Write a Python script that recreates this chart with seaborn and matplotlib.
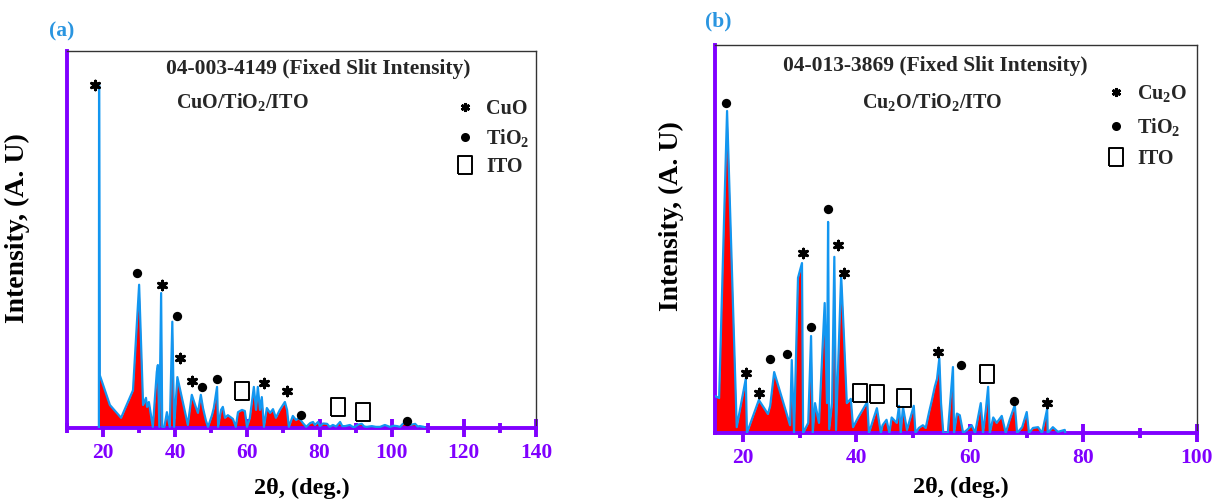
import numpy as np
import pandas as pd
import matplotlib
matplotlib.use("Agg")
import matplotlib.pyplot as plt
from matplotlib.lines import Line2D
import seaborn as sns

# ---------------- data ----------------
a_two_theta = [18.85, 18.9, 19.1, 21.9, 25.0, 28.3, 30.0, 31.1, 31.9, 32.2, 32.7, 33.8,
               34.9, 35.2, 35.6, 36.1, 36.4, 37.0, 37.7, 38.5, 39.2, 39.7, 40.6, 43.5,
               44.6, 45.7, 46.3, 47.1, 47.7, 48.5, 49.1, 50.2, 50.7, 51.6, 51.9, 52.7,
               53.2, 53.8, 54.6, 56.0, 56.8, 57.4, 58.5, 59.3, 59.9, 60.7, 61.8, 62.4,
               62.9, 63.5, 64.0, 64.6, 65.4, 66.3, 67.1, 67.9, 69.0, 70.4, 71.0, 71.5,
               72.6, 73.5, 74.3, 75.4, 76.3, 77.4, 78.2, 78.7, 79.6, 80.1, 81.0, 82.1,
               82.8, 83.7, 84.6, 85.7, 86.3, 87.1, 88.4, 89.2, 89.8, 90.7, 91.7, 92.4,
               93.1, 94.5, 95.6, 96.8, 98.1, 99.5, 100.6, 101.5, 102.3, 103.1, 104.0,
               105.1, 106.5, 107.2, 107.8, 108.9, 109.2]
a_intensity = [0.0, 91.0, 14.0, 6.1, 2.7, 10.0, 38.0, 6.1, 8.0, 5.6, 6.9, 0.3,
               14.9, 16.7, 0.3, 35.8, 0.3, 0.3, 4.2, 0.3, 28.2, 0.3, 13.5, 0.8,
               8.8, 5.6, 4.0, 8.8, 5.3, 2.0, 0.3, 3.4, 5.3, 10.9, 0.3, 4.8,
               5.6, 2.7, 3.4, 2.4, 0.3, 4.2, 4.8, 4.5, 0.3, 2.7, 10.9, 4.8,
               10.9, 4.8, 8.2, 0.3, 5.3, 4.0, 5.0, 2.7, 4.8, 6.9, 4.8, 0.3,
               3.2, 2.1, 2.7, 1.3, 0.3, 1.3, 1.6, 0.8, 1.6, 0.5, 1.2, 1.1,
               0.3, 0.8, 0.4, 1.6, 0.5, 0.5, 0.8, 0.3, 0.3, 0.9, 1.1, 0.4,
               0.3, 0.5, 0.3, 0.3, 0.8, 0.3, 0.6, 0.5, 0.3, 1.1, 1.6,
               0.8, 1.1, 0.4, 0.5, 0.3, 0.0]

b_two_theta = [15.1, 15.8, 17.2, 18.9, 20.5, 20.7, 22.8, 24.4, 24.8, 25.5, 28.3, 28.6,
               29.0, 29.7, 30.4, 30.6, 31.5, 32.0, 32.3, 32.7, 33.4, 34.4, 34.8, 35.0,
               35.2, 35.7, 36.1, 36.4, 37.3, 37.7, 38.3, 39.0, 39.4, 40.3, 41.9, 42.2,
               43.6, 44.3, 44.6, 45.3, 45.8, 46.2, 47.1, 47.5, 47.8, 48.2, 48.9, 50.1,
               50.4, 51.0, 51.7, 52.2, 52.8, 53.3, 53.8, 54.2, 54.6, 54.9, 55.3, 56.1,
               57.0, 57.2, 57.7, 58.2, 58.8, 59.5, 60.3, 60.9, 61.9, 62.3, 62.8, 63.2,
               63.5, 64.1, 64.7, 65.6, 66.3, 67.0, 67.9, 68.3, 69.2, 70.0, 70.4, 71.1,
               72.0, 72.7, 73.6, 73.7, 74.6, 75.5, 76.7, 76.8]
b_intensity = [9.5, 9.0, 83.0, 1.5, 14.0, 0.0, 8.5, 4.9, 7.0, 15.7, 2.0, 18.8,
               0.0, 40.0, 43.8, 0.0, 2.6, 25.0, 0.0, 7.7, 2.6, 33.5, 7.7, 54.4,
               1.0, 7.7, 45.4, 0.8, 40.7, 28.0, 7.7, 8.8, 1.5, 4.0, 8.0, 0.0,
               6.4, 0.0, 2.0, 3.4, 0.0, 4.0, 2.6, 7.0, 0.0, 6.7, 0.8, 7.0,
               0.0, 1.3, 2.0, 1.3, 5.4, 8.5, 11.9, 14.0, 19.3, 7.7, 0.0, 0.0,
               17.0, 0.0, 5.0, 4.6, 0.0, 0.8, 2.0, 0.0, 7.7, 0.0, 6.0, 11.9,
               0.0, 4.0, 2.6, 4.4, 0.0, 3.4, 7.2, 0.0, 1.5, 5.4, 0.0, 1.3,
               1.5, 0.0, 6.2, 0.0, 1.5, 0.3, 0.8, 0.0]

# phase markers (2theta, height)
a_cuo_x = [17.8, 36.3, 41.3, 44.6, 64.6, 71.0]
a_cuo_y = [91.0, 38.0, 18.6, 12.5, 12.0, 9.8]
a_tio2_x = [29.4, 40.5, 47.4, 51.6, 74.9, 104.2]
a_tio2_y = [41.0, 29.7, 10.9, 13.0, 3.4, 1.9]
a_ito_x = [58.5, 85.1, 92.0]
a_ito_y = [9.8, 5.6, 4.2]

b_cu2o_x = [20.5, 22.8, 30.6, 36.7, 37.8, 54.4, 73.6]
b_cu2o_y = [15.5, 10.3, 46.4, 48.5, 41.2, 21.0, 7.7]
b_tio2_x = [17.0, 24.8, 27.8, 32.0, 35.0, 58.4, 67.8]
b_tio2_y = [85.0, 19.0, 20.4, 27.3, 57.7, 17.5, 8.2]
b_ito_x = [40.6, 43.6, 48.4, 63.0]
b_ito_y = [10.3, 10.0, 9.0, 15.2]

a_ticks = [20, 40, 60, 80, 100, 120, 140]
b_ticks = [20, 40, 60, 80, 100]

# ---------------- style ----------------
sns.set_theme(style="white")
plt.rcParams["font.family"] = ["Liberation Serif", "DejaVu Serif"]
plt.rcParams["font.weight"] = "bold"
plt.rcParams["mathtext.fontset"] = "custom"
plt.rcParams["mathtext.rm"] = "Liberation Serif:bold"
plt.rcParams["mathtext.bf"] = "Liberation Serif:bold"
plt.rcParams["mathtext.it"] = "Liberation Serif:bold"

PURPLE = "#8000ff"
BLUE = "#1296f0"
RED = "#ff0000"
LABELBLUE = "#2a95e0"

fig = plt.figure(figsize=(12.13, 5.04), dpi=100)
ax_a = fig.add_axes([0.0552, 0.1508, 0.3867, 0.7480])
ax_b = fig.add_axes([0.5891, 0.1409, 0.3977, 0.7698])

rect = [(-0.4, -0.5), (0.4, -0.5), (0.4, 0.5), (-0.4, 0.5), (-0.4, -0.5)]
STAR = (6, 2, 0)


def draw_panel(ax, tt, inten, xlim, ticks, phases, title, title_xy, comp, comp_xy,
               leg_labels, leg_anchor, leg_spacing, xlabel_xy, ylabel_xy):
    df = pd.DataFrame({"two_theta": tt, "intensity": inten})
    ax.fill_between(df["two_theta"], 0, df["intensity"], color=RED, lw=0, zorder=2)
    sns.lineplot(data=df, x="two_theta", y="intensity", ax=ax, color=BLUE, lw=1.6,
                 sort=False, estimator=None, zorder=3)
    (sx, sy), (cx, cy), (ix, iy) = phases
    ax.scatter(sx, sy, marker=STAR, s=38, lw=2.2, color="black", zorder=4)
    ax.scatter(cx, cy, marker="o", s=45, color="black", lw=0, zorder=4)
    ax.scatter(ix, iy, marker=rect, s=170, facecolor="none", edgecolor="black", lw=1.4, zorder=4)

    ax.set_xlim(*xlim)
    ax.set_ylim(0, 100)
    ax.set_xticks(ticks)
    ax.set_xticklabels([str(t) for t in ticks])
    ax.set_xticks(np.arange(xlim[0] + (10 - xlim[0] % 10) % 10, xlim[1] + 1, 10), minor=True)
    ax.set_yticks([])
    ax.tick_params(axis="x", which="major", direction="inout", length=13, width=2.8,
                   color=PURPLE, labelcolor=PURPLE, labelsize=15.5, pad=4, bottom=True)
    ax.tick_params(axis="x", which="minor", direction="inout", length=7, width=2.8,
                   color=PURPLE, bottom=True)
    for lab in ax.get_xticklabels():
        lab.set_fontweight("bold")
    for side in ["left", "bottom"]:
        ax.spines[side].set_color(PURPLE)
        ax.spines[side].set_linewidth(2.8)
    for side in ["top", "right"]:
        ax.spines[side].set_color("#333333")
        ax.spines[side].set_linewidth(1.0)

    ax.set_xlabel("2\u03b8, (deg.)", fontsize=17.5, fontweight="bold", color="black")
    ax.xaxis.set_label_coords(*xlabel_xy)
    ax.set_ylabel("Intensity, (A. U)", fontsize=20, fontweight="bold", color="black")
    ax.yaxis.set_label_coords(*ylabel_xy)

    ax.text(title_xy[0], title_xy[1], title, transform=ax.transAxes, ha="center",
            va="center", fontsize=15.5, fontweight="bold")
    ax.text(comp_xy[0], comp_xy[1], comp, transform=ax.transAxes, ha="left",
            va="center", fontsize=14.5, fontweight="bold")

    handles = [
        Line2D([], [], ls="none", marker=STAR, ms=6.5, mew=2.0, color="black"),
        Line2D([], [], ls="none", marker="o", ms=6.5, color="black", mew=0),
        Line2D([], [], ls="none", marker=rect, ms=13, mfc="none", mec="black", mew=1.4),
    ]
    leg = ax.legend(handles, leg_labels, loc="upper right", bbox_to_anchor=leg_anchor,
                    frameon=False, fontsize=14.5, handlelength=1.0, handletextpad=0.55,
                    labelspacing=leg_spacing, borderaxespad=0)
    for t in leg.get_texts():
        t.set_fontweight("bold")


draw_panel(ax_a, a_two_theta, a_intensity, (10, 140), a_ticks,
           ((a_cuo_x, a_cuo_y), (a_tio2_x, a_tio2_y), (a_ito_x, a_ito_y)),
           "04-003-4149 (Fixed Slit Intensity)", (0.535, 0.952),
           r"CuO/TiO$_{2}$/ITO", (0.232, 0.865),
           ["CuO", r"TiO$_{2}$", "ITO"], (1.003, 0.893), 0.38,
           (0.5, -0.133), (-0.079, 0.53))

draw_panel(ax_b, b_two_theta, b_intensity, (15, 100), b_ticks,
           ((b_cu2o_x, b_cu2o_y), (b_tio2_x, b_tio2_y), (b_ito_x, b_ito_y)),
           "04-013-3869 (Fixed Slit Intensity)", (0.457, 0.946),
           r"Cu$_{2}$O/TiO$_{2}$/ITO", (0.306, 0.853),
           [r"Cu$_{2}$O", r"TiO$_{2}$", "ITO"], (0.997, 0.922), 0.57,
           (0.51, -0.113), (-0.063, 0.56))

fig.text(0.051, 0.937, "(a)", color=LABELBLUE, fontsize=15.5, fontweight="bold",
         ha="center", va="center")
fig.text(0.592, 0.957, "(b)", color=LABELBLUE, fontsize=15.5, fontweight="bold",
         ha="center", va="center")

fig.savefig("out.png", dpi=100, facecolor="white")
